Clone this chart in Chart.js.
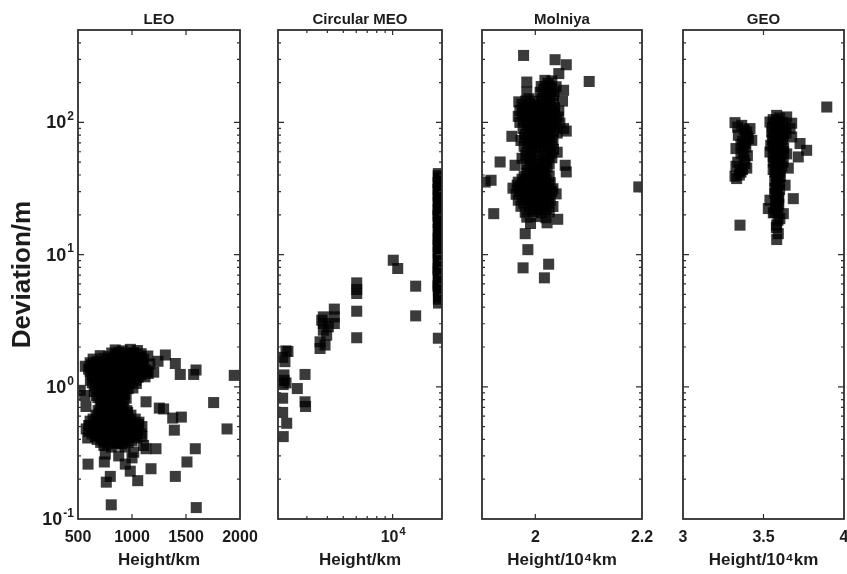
<!DOCTYPE html>
<html>
<head>
<meta charset="utf-8">
<title>Deviation vs height</title>
<script src="https://cdn.jsdelivr.net/npm/chart.js@4.4.1/dist/chart.umd.min.js"></script>
<style>
    html, body { margin: 0; padding: 0; background: #fff; width: 847px; height: 574px; overflow: hidden; }
    canvas { position: absolute; top: 0; }
</style>
</head>
<body>
<canvas id="leo" width="262" height="574" style="left:0px"></canvas>
<canvas id="meo" width="200" height="574" style="left:262px"></canvas>
<canvas id="mol" width="200" height="574" style="left:462px"></canvas>
<canvas id="geo" width="200" height="574" style="left:662px"></canvas>
<script>
// Eixo Y comum (desvio em metros, escala log)
var devMin = 0.1;
var devMax = 500;
var devTicks = [0.1, 1, 10, 100];
var devTickExp = ['-1', '0', '1', '2'];
var devMinorTicks = [0.2, 0.3, 0.4, 0.5, 0.6, 0.7, 0.8, 0.9, 2, 3, 4, 5, 6, 7, 8, 9,
    20, 30, 40, 50, 60, 70, 80, 90, 200, 300, 400];

// Eixos X de cada painel
var leoTicks = [500, 1000, 1500, 2000];
var meoTicks = [10000];
var meoTickExp = ['4'];
var meoMinorTicks = [3000, 4000, 5000, 6000, 7000, 8000, 9000];
var molTicks = [2, 2.2];
var geoTicks = [3, 3.5, 4];

// LEO: [altura km, desvio m]
var leoData = [
    [568, 1.43], [1309, 1.74], [1241, 1.56], [1401, 1.50], [1447, 1.24], [1571, 1.24], [1593, 1.34],
    [1947, 1.22], [1201, 1.29], [1130, 0.77], [1253, 0.69], [1293, 0.68], [1377, 0.58], [1457, 0.59],
    [1392, 0.47], [1756, 0.76], [1880, 0.48], [1586, 0.34], [1509, 0.27], [1401, 0.21], [1176, 0.24],
    [1053, 0.195], [984, 0.23], [799, 0.21], [762, 0.19], [808, 0.128], [1595, 0.122], [593, 0.26],
    [1222, 0.34], [1130, 0.34], [1016, 0.32], [590, 0.41], [599, 0.51], [574, 0.71], [562, 0.86],
    [521, 0.94], [744, 0.27], [753, 0.31], [877, 0.30], [938, 0.26], [1000, 0.29], [1093, 0.42], [1108, 0.36],
    [845, 1.90], [910, 1.87], [985, 1.92], [1050, 1.88],
    [706, 1.72], [780, 1.69], [850, 1.74], [928, 1.70], [1002, 1.76], [1072, 1.68], [1146, 1.71],
    [612, 1.52], [678, 1.55], [740, 1.50], [808, 1.56], [872, 1.53], [942, 1.51], [1020, 1.57], [1094, 1.54], [1165, 1.49],
    [598, 1.36], [658, 1.40], [724, 1.37], [795, 1.41], [860, 1.35], [925, 1.39], [992, 1.42], [1064, 1.38], [1128, 1.34],
    [632, 1.24], [695, 1.27], [760, 1.23], [825, 1.26], [888, 1.22], [955, 1.28], [1018, 1.25], [1082, 1.23], [1150, 1.26],
    [615, 1.12], [686, 1.14], [750, 1.10], [816, 1.13], [890, 1.15], [962, 1.11], [1036, 1.12],
    [660, 1.02], [724, 0.99], [797, 1.03], [870, 1.00], [943, 1.04], [1008, 0.98],
    [650, 0.92], [714, 0.90], [779, 0.93], [851, 0.91], [925, 0.89],
    [684, 0.83], [752, 0.81], [814, 0.84], [881, 0.80], [946, 0.82],
    [705, 0.74], [770, 0.75], [835, 0.72], [897, 0.76],
    [686, 0.66], [749, 0.68], [816, 0.65], [880, 0.67], [952, 0.66],
    [668, 0.61], [733, 0.59], [797, 0.62], [862, 0.60], [927, 0.58], [990, 0.61],
    [612, 0.55], [677, 0.53], [742, 0.54], [805, 0.56], [871, 0.52], [936, 0.55], [1001, 0.53], [1064, 0.54],
    [576, 0.48], [640, 0.50], [703, 0.49], [770, 0.47], [832, 0.50], [899, 0.48], [962, 0.49], [1029, 0.46], [1092, 0.50],
    [631, 0.44], [695, 0.43], [758, 0.45], [825, 0.44], [888, 0.42], [953, 0.45], [1020, 0.43], [1084, 0.44],
    [677, 0.40], [742, 0.39], [807, 0.41], [869, 0.38], [934, 0.40], [1000, 0.39],
    [740, 0.36], [807, 0.35], [871, 0.37], [936, 0.35],
    [812, 1.80], [878, 1.82], [946, 1.79], [1015, 1.81], [1085, 1.78],
    [640, 1.62], [742, 1.64], [815, 1.60], [888, 1.63], [962, 1.61], [1035, 1.65], [1108, 1.62],
    [625, 1.46], [690, 1.45], [757, 1.47], [825, 1.44], [893, 1.46], [960, 1.48], [1030, 1.45], [1100, 1.47],
    [612, 1.31], [676, 1.30], [742, 1.32], [808, 1.29], [874, 1.31], [940, 1.33], [1006, 1.30], [1072, 1.32], [1140, 1.30],
    [650, 1.18], [718, 1.19], [784, 1.17], [852, 1.18], [920, 1.20], [988, 1.17], [1056, 1.18], [1120, 1.19],
    [632, 1.07], [700, 1.06], [765, 1.08], [835, 1.07], [905, 1.05], [975, 1.08], [1040, 1.06],
    [690, 0.96], [760, 0.97], [830, 0.95], [900, 0.96], [965, 0.97],
    [668, 0.86], [735, 0.87], [800, 0.85], [866, 0.86], [930, 0.87],
    [720, 0.78], [790, 0.79], [860, 0.77], [925, 0.78],
    [720, 0.70], [785, 0.71], [850, 0.69], [915, 0.70],
    [700, 0.63], [765, 0.64], [830, 0.62], [895, 0.63], [960, 0.64],
    [640, 0.57], [705, 0.58], [770, 0.56], [835, 0.57], [900, 0.58], [965, 0.56], [1030, 0.57],
    [610, 0.51], [672, 0.52], [738, 0.50], [800, 0.51], [866, 0.52], [930, 0.50], [995, 0.51], [1060, 0.52],
    [600, 0.46], [662, 0.47], [728, 0.46], [792, 0.45], [858, 0.47], [920, 0.46], [988, 0.45], [1052, 0.47],
    [660, 0.42], [725, 0.41], [790, 0.43], [855, 0.42], [918, 0.41], [980, 0.42], [1045, 0.41],
    [710, 0.38], [775, 0.37], [840, 0.38], [905, 0.37], [965, 0.38]
];

// MEO circular
var meoData = [
    [19000, 41], [19100, 38], [18900, 35], [19050, 32.5], [19200, 30], [18950, 28], [19000, 26],
    [19100, 24], [18900, 22], [19000, 20.5], [19150, 19], [18950, 17.5], [19050, 16], [19300, 15],
    [19000, 14], [18900, 13], [19100, 12], [19000, 11.2], [18950, 10.4], [19050, 9.7], [19000, 9.0],
    [19100, 8.4], [18900, 7.8], [19000, 7.2], [19050, 6.6], [18950, 6.1], [19000, 5.6], [19100, 5.1],
    [19000, 4.6], [19050, 4.3], [19000, 2.33],
    [18950, 39.5], [19050, 36.5], [19000, 33.5], [18900, 31], [19100, 29], [19000, 27], [18950, 25],
    [19050, 23], [19000, 21], [18900, 19.7], [19050, 18.2], [19000, 16.7], [18950, 15.5], [19100, 14.5],
    [19000, 13.5], [19050, 12.5], [18950, 11.6], [19000, 10.8], [19100, 10], [18950, 9.3], [19000, 8.7],
    [19050, 8.1], [18950, 7.5], [19000, 6.9], [19100, 6.3], [18900, 5.8], [19000, 5.3], [19050, 4.8],
    [10090, 9.07], [10740, 7.85], [13820, 5.77], [13820, 3.44],
    [6040, 6.11], [6040, 5.45], [6040, 5.08], [6040, 3.73], [6040, 2.35],
    [4410, 3.87], [4410, 3.38], [4410, 3.01], [3780, 3.38], [3780, 3.01], [3780, 2.68],
    [3960, 2.46], [3610, 2.19], [3610, 1.95], [3870, 2.07], [3695, 3.19], [4055, 2.84],
    [2238, 1.87], [2300, 1.85], [2135, 1.67], [2204, 1.55], [2174, 1.23], [2238, 1.07], [2152, 1.04],
    [2180, 1.12], [2923, 1.24], [2623, 0.97], [2135, 0.82], [2923, 0.77], [2945, 0.71], [2135, 0.64],
    [2260, 0.53], [2152, 0.42]
];

// Molniya (altura em 10^4 km)
var molData = [
    [1.978, 321], [2.037, 298], [2.058, 273], [2.101, 204], [2.044, 234], [1.984, 202], [1.984, 170],
    [2.053, 175], [2.051, 145], [1.969, 143], [1.956, 78.5], [1.934, 50.2], [1.962, 47.4], [1.906, 35.4],
    [1.917, 36.5], [2.194, 32.5], [1.922, 20.4], [1.991, 17.2], [1.981, 14.4], [2.022, 17.4], [2.042, 18.5],
    [1.986, 10.9], [1.977, 7.94], [2.025, 8.46], [2.017, 6.67], [2.056, 47.4], [2.058, 42.2], [2.053, 89.8], [2.058, 86],
    [2.018, 208], [2.031, 206],
    [2.011, 187], [2.026, 189], [2.039, 186],
    [2.009, 169], [2.022, 167], [2.035, 170],
    [2.013, 152], [2.028, 153], [1.988, 151],
    [1.975, 137], [1.990, 138], [2.005, 136], [2.020, 137], [2.033, 139],
    [1.971, 123], [1.984, 124], [1.999, 122], [2.014, 123], [2.029, 125], [2.044, 122],
    [1.968, 111], [1.983, 112], [1.998, 110], [2.013, 111], [2.028, 113], [2.043, 110],
    [1.971, 100], [1.986, 101], [2.001, 99], [2.016, 100], [2.031, 102], [2.046, 99],
    [1.977, 90], [1.992, 91], [2.007, 89], [2.022, 90], [2.037, 92],
    [1.981, 81], [1.996, 82], [2.011, 80], [2.026, 81], [2.041, 83],
    [1.973, 73], [1.988, 74], [2.003, 72], [2.018, 73], [2.033, 74],
    [1.979, 66], [1.994, 67], [2.009, 65], [2.024, 66],
    [1.984, 59.4], [1.999, 60], [2.028, 58.5], [2.041, 59.5],
    [1.975, 53.5], [1.990, 54], [2.018, 53], [2.031, 54],
    [1.983, 48.2], [1.998, 49], [2.013, 47.5], [2.026, 48.5],
    [1.986, 43.4], [2.003, 44], [2.018, 43],
    [1.979, 39.1], [1.994, 39.5], [2.011, 38.6], [2.026, 39.4],
    [1.968, 35.3], [1.983, 35.8], [1.998, 34.9], [2.013, 35.5], [2.028, 35],
    [1.958, 31.8], [1.973, 32.2], [1.988, 31.4], [2.003, 31.9], [2.018, 32.3], [2.033, 31.5],
    [1.964, 28.6], [1.979, 28.9], [1.994, 28.3], [2.009, 28.7], [2.024, 28.4], [2.039, 28.8],
    [1.968, 25.8], [1.983, 26.1], [1.998, 25.5], [2.013, 25.9], [2.028, 25.6],
    [1.973, 23.2], [1.988, 23.5], [2.003, 23], [2.018, 23.4], [2.033, 23.1],
    [1.981, 20.9], [1.996, 21.2], [2.011, 20.7], [2.026, 21],
    [1.984, 19.2], [2.003, 19.4], [2.020, 19],
    [2.024, 198], [2.016, 178], [2.030, 178], [2.020, 160], [2.034, 160],
    [1.982, 145], [1.998, 145], [2.012, 145], [2.026, 145],
    [1.978, 130], [1.992, 130], [2.006, 130], [2.021, 130], [2.036, 130],
    [1.976, 117], [1.990, 117], [2.006, 117], [2.020, 117], [2.036, 117],
    [1.978, 105], [1.993, 105], [2.008, 105], [2.024, 105], [2.039, 105],
    [1.984, 95], [2.000, 95], [2.015, 95], [2.030, 95],
    [1.988, 85.5], [2.003, 85.5], [2.018, 85.5], [2.034, 85.5],
    [1.980, 77], [1.996, 77], [2.010, 77], [2.026, 77],
    [1.986, 69.5], [2.001, 69.5], [2.016, 69.5], [2.031, 69.5],
    [1.992, 62.5], [2.016, 62.5], [2.034, 62.5],
    [1.982, 56.5], [2.005, 56.5], [2.024, 56.5],
    [1.990, 51], [2.006, 51], [2.020, 51],
    [1.992, 45.8], [2.010, 45.8], [2.022, 45.8],
    [1.984, 41.2], [2.000, 41.2], [2.016, 41.2],
    [1.975, 37.2], [1.990, 37.2], [2.005, 37.2], [2.020, 37.2],
    [1.966, 33.5], [1.980, 33.5], [1.995, 33.5], [2.010, 33.5], [2.025, 33.5],
    [1.970, 30.1], [1.985, 30.1], [2.000, 30.1], [2.016, 30.1], [2.031, 30.1],
    [1.975, 27.2], [1.990, 27.2], [2.005, 27.2], [2.020, 27.2],
    [1.978, 24.5], [1.994, 24.5], [2.010, 24.5], [2.025, 24.5],
    [1.990, 22], [2.005, 22], [2.020, 22]
];

// GEO (altura em 10^4 km)
var geoData = [
    [3.893, 130.7],
    [3.323, 99.6], [3.365, 95], [3.396, 84.7], [3.406, 75.4], [3.344, 79.9], [3.385, 69.2], [3.329, 63.4],
    [3.375, 59.7], [3.385, 48.8], [3.396, 45.1], [3.329, 46.6], [3.323, 39.2], [3.354, 43.5], [3.333, 37.6],
    [3.416, 89.8], [3.427, 73.2], [3.354, 16.7],
    [3.38, 88], [3.39, 80], [3.37, 72], [3.39, 65], [3.36, 58], [3.38, 52], [3.37, 44], [3.35, 40],
    [3.34, 92], [3.40, 78], [3.36, 68], [3.40, 56], [3.34, 50], [3.36, 42],
    [3.582, 113], [3.644, 110], [3.540, 100.7], [3.675, 98.6], [3.665, 89.8], [3.551, 84.7], [3.623, 82.3],
    [3.582, 77.6], [3.675, 77.6], [3.602, 69.2], [3.545, 67.1], [3.727, 69.2], [3.768, 61.5], [3.716, 54.8],
    [3.582, 61.5], [3.540, 59.7], [3.644, 57.8], [3.592, 54.8], [3.561, 50.2], [3.623, 50.2], [3.582, 45.1],
    [3.654, 45.1], [3.571, 42.2], [3.592, 38.7], [3.582, 35.4], [3.634, 33.5], [3.571, 31.6], [3.685, 26.5],
    [3.582, 29.0], [3.592, 25.8], [3.540, 25.8], [3.530, 22.3], [3.582, 22.9], [3.623, 20.4], [3.561, 20.7],
    [3.582, 16.7], [3.592, 14.4], [3.582, 13.0], [3.602, 18.7],
    [3.585, 103], [3.570, 96.7], [3.600, 96.7], [3.578, 87.2], [3.610, 87.2], [3.560, 78.5], [3.592, 78.5],
    [3.620, 78.5], [3.575, 70.7], [3.605, 70.7], [3.565, 63.7], [3.595, 63.7], [3.625, 63.7], [3.580, 57.4],
    [3.610, 57.4], [3.570, 51.7], [3.600, 51.7], [3.585, 46.6], [3.615, 46.6], [3.575, 42.0], [3.600, 42.0],
    [3.585, 37.8], [3.580, 34.0], [3.600, 34.0], [3.585, 30.7], [3.580, 27.6], [3.575, 24.0], [3.595, 24.0],
    [3.570, 20.9], [3.590, 18.2],
    [3.560, 105], [3.600, 108], [3.620, 100], [3.555, 92], [3.590, 92], [3.635, 92], [3.570, 83],
    [3.605, 83], [3.640, 83], [3.555, 74], [3.588, 74], [3.620, 74], [3.560, 66], [3.610, 66],
    [3.580, 60], [3.625, 60], [3.560, 55], [3.605, 55], [3.590, 49], [3.560, 44], [3.605, 39],
    [3.570, 36], [3.600, 31], [3.570, 29], [3.595, 27], [3.590, 21.5], [3.580, 16]
];

var inkColor = '#1c1c1c';
var boxColor = '#2e2e2e';
var markerColor = 'rgba(0, 0, 0, 0.77)';
var fontFamily = "'Liberation Sans', Arial, Helvetica, sans-serif";

Chart.defaults.font.family = fontFamily;

// Escreve "10" com expoente sobrescrito
function drawPower(ctx, exp, x, y, baseSize, expSize, align) {
    ctx.font = 'bold ' + baseSize + 'px ' + fontFamily;
    var baseW = ctx.measureText('10').width;
    ctx.font = 'bold ' + expSize + 'px ' + fontFamily;
    var expW = ctx.measureText(exp).width;
    var left = align === 'right' ? x - baseW - expW : x - (baseW + expW) / 2;

    ctx.textAlign = 'left';
    ctx.textBaseline = 'middle';
    ctx.font = 'bold ' + baseSize + 'px ' + fontFamily;
    ctx.fillText('10', left, y);
    ctx.font = 'bold ' + expSize + 'px ' + fontFamily;
    ctx.fillText(exp, left + baseW + 1, y - baseSize * 0.36);
}

// Caixa fechada com marcas internas (estilo MATLAB) nos quatro lados
var matlabBox = {
    id: 'matlabBox',
    afterDraw: function (chart, args, opts) {
        var ctx = chart.ctx;
        var a = chart.chartArea;
        var xs = chart.scales.x;
        var ys = chart.scales.y;

        ctx.save();
        ctx.strokeStyle = boxColor;
        ctx.lineWidth = 1.2;
        ctx.beginPath();

        function xTick(v, len) {
            var px = xs.getPixelForValue(v);
            if (px <= a.left + 1 || px >= a.right - 1) return;
            ctx.moveTo(px, a.bottom); ctx.lineTo(px, a.bottom - len);
            ctx.moveTo(px, a.top); ctx.lineTo(px, a.top + len);
        }
        function yTick(v, len) {
            var py = ys.getPixelForValue(v);
            if (py <= a.top + 1 || py >= a.bottom - 1) return;
            ctx.moveTo(a.left, py); ctx.lineTo(a.left + len, py);
            ctx.moveTo(a.right, py); ctx.lineTo(a.right - len, py);
        }

        (opts.xMajor || []).forEach(function (v) { xTick(v, 5); });
        (opts.xMinor || []).forEach(function (v) { xTick(v, 3); });
        devTicks.forEach(function (v) { yTick(v, 6); });
        devMinorTicks.forEach(function (v) { yTick(v, 3); });
        ctx.stroke();

        ctx.lineWidth = 1.8;
        ctx.strokeRect(a.left, a.top, a.right - a.left, a.bottom - a.top);

        // rótulos em potência de 10
        ctx.fillStyle = inkColor;
        if (opts.yPower) {
            devTicks.forEach(function (v, i) {
                drawPower(ctx, devTickExp[i], a.left - 5, ys.getPixelForValue(v) + 1, 18, 12, 'right');
            });
        }
        if (opts.xPower) {
            opts.xMajor.forEach(function (v, i) {
                drawPower(ctx, opts.xPower[i], xs.getPixelForValue(v), a.bottom + 19, 16, 11, 'center');
            });
        }
        ctx.restore();
    }
};

function toPoints(pairs) {
    return pairs.map(function (p) {
        return { x: p[0], y: p[1] };
    });
}

// Cria um painel de dispersão
function makePanel(canvasId, cfg) {
    var ctx = document.getElementById(canvasId).getContext('2d');

    return new Chart(ctx, {
        type: 'scatter',
        data: {
            datasets: [{
                data: toPoints(cfg.points),
                pointStyle: 'rect',
                pointRadius: 7.8,
                pointHoverRadius: 7.8,
                backgroundColor: markerColor,
                borderWidth: 0
            }]
        },
        options: {
            responsive: false,
            animation: false,
            events: [],
            layout: { padding: { left: 0, right: cfg.padRight, top: 0, bottom: 0 } },
            plugins: {
                legend: { display: false },
                tooltip: { enabled: false },
                title: {
                    display: true,
                    text: cfg.title,
                    fullSize: false,
                    color: inkColor,
                    font: { size: 15, weight: 'bold', lineHeight: 1.1 },
                    padding: { top: 12, bottom: 1.5 }
                },
                matlabBox: { xMajor: cfg.xTicks, xMinor: cfg.xMinor, xPower: cfg.xPower, yPower: !!cfg.yTitle }
            },
            scales: {
                x: {
                    type: cfg.xType,
                    min: cfg.xMin,
                    max: cfg.xMax,
                    bounds: 'data',
                    grid: { display: false },
                    border: { display: false },
                    ticks: {
                        autoSkip: false,
                        maxRotation: 0,
                        minRotation: 0,
                        padding: 1,
                        color: inkColor,
                        font: { size: 16, weight: 'bold' },
                        callback: function (value, index) {
                            return cfg.xPower ? '' : String(cfg.xTicks[index]);
                        }
                    },
                    afterBuildTicks: function (scale) {
                        scale.ticks = cfg.xTicks.map(function (v) { return { value: v }; });
                    },
                    afterFit: function (scale) { scale.height = 55; },
                    title: {
                        display: true,
                        text: cfg.xTitle,
                        color: inkColor,
                        font: { size: 17, weight: 'bold' },
                        padding: { top: 0, bottom: 3 }
                    }
                },
                y: {
                    type: 'logarithmic',
                    min: devMin,
                    max: devMax,
                    bounds: 'data',
                    grid: { display: false },
                    border: { display: false },
                    ticks: { display: false },
                    afterBuildTicks: function (scale) {
                        scale.ticks = devTicks.map(function (v) { return { value: v }; });
                    },
                    afterFit: function (scale) { scale.width = cfg.yWidth; },
                    title: {
                        display: !!cfg.yTitle,
                        text: cfg.yTitle || '',
                        color: inkColor,
                        font: { size: 26, weight: 'bold' },
                        padding: { top: 7, bottom: 0 }
                    }
                }
            }
        },
        plugins: [matlabBox]
    });
}

makePanel('leo', {
    title: 'LEO', points: leoData,
    xType: 'linear', xMin: 500, xMax: 2000, xTicks: leoTicks, xMinor: [],
    xTitle: 'Height/km', yTitle: 'Deviation/m', yWidth: 78, padRight: 22
});

makePanel('meo', {
    title: 'Circular MEO', points: meoData,
    xType: 'logarithmic', xMin: 2000, xMax: 20000, xTicks: meoTicks, xPower: meoTickExp, xMinor: meoMinorTicks,
    xTitle: 'Height/km', yWidth: 16, padRight: 20
});

makePanel('mol', {
    title: 'Molniya', points: molData,
    xType: 'linear', xMin: 1.9, xMax: 2.2, xTicks: molTicks, xMinor: [],
    xTitle: 'Height/10\u2074km', yWidth: 20, padRight: 20
});

makePanel('geo', {
    title: 'GEO', points: geoData,
    xType: 'linear', xMin: 3, xMax: 4, xTicks: geoTicks, xMinor: [],
    xTitle: 'Height/10\u2074km', yWidth: 21, padRight: 18
});
</script>
</body>
</html>
